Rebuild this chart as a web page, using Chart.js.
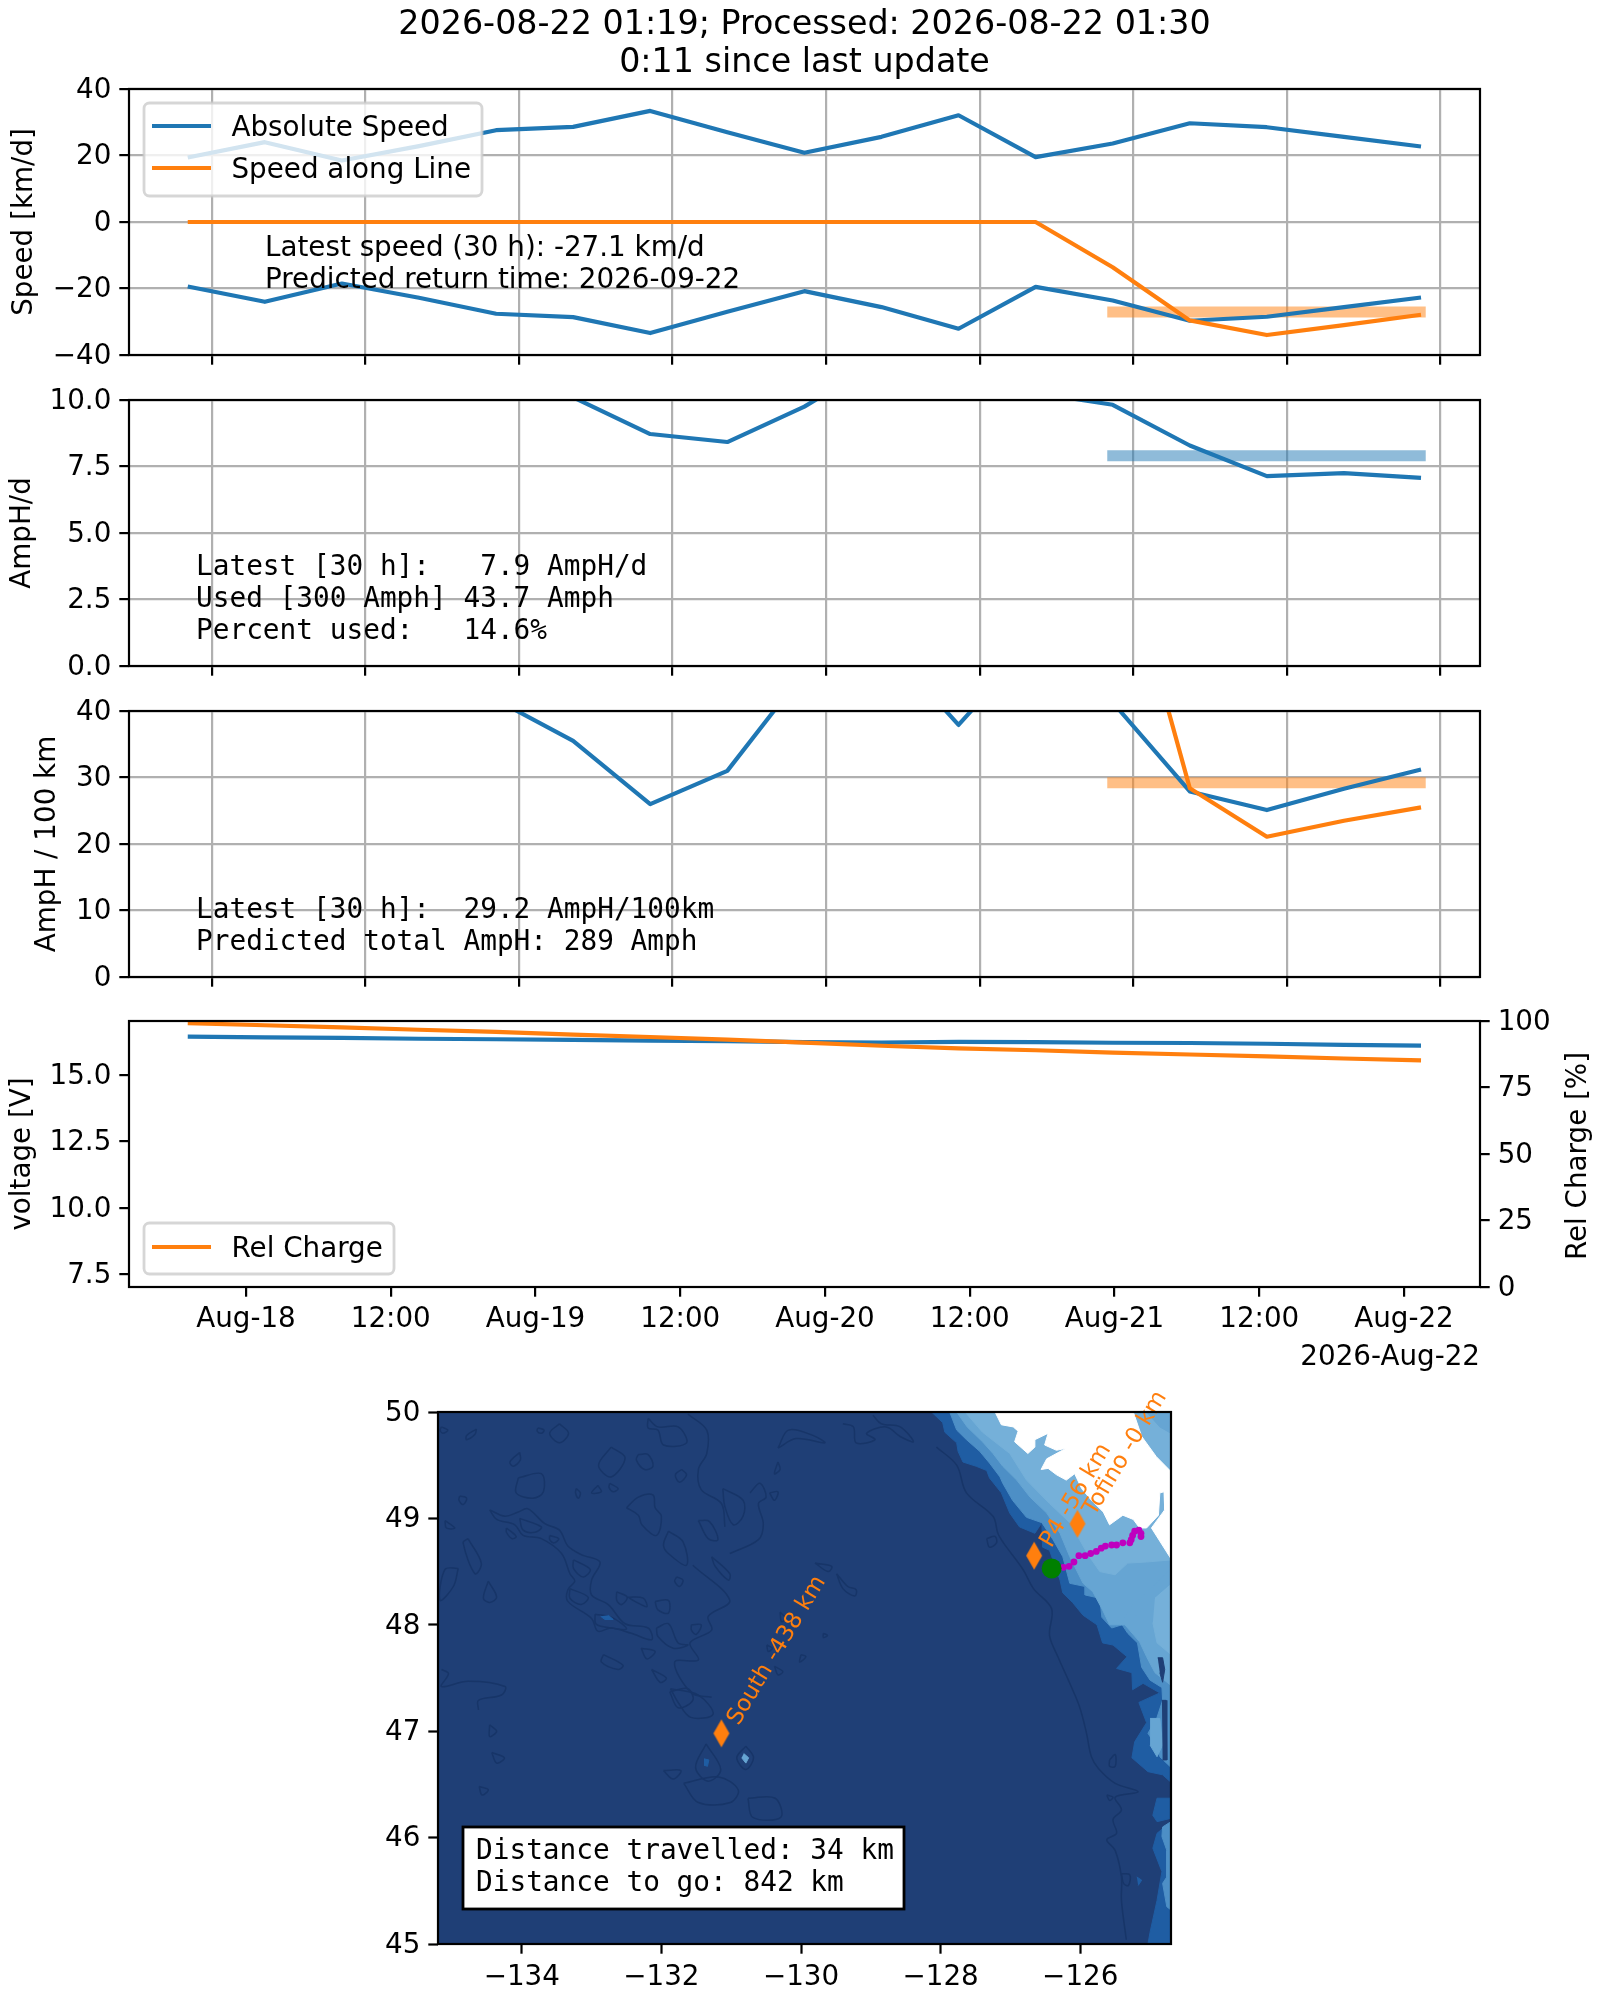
<!DOCTYPE html>
<html>
<head>
<meta charset="utf-8">
<title>Glider status</title>
<script src="https://cdn.jsdelivr.net/npm/chart.js@4/dist/chart.umd.min.js"></script>
<style>
  html, body { margin: 0; background: #fff; }
  #page { position: relative; width: 1600px; height: 2000px; }
  canvas { position: absolute; left: 0; }
</style>
</head>
<body>
<div id="page"></div>
<script>
// --- Time series, hours since Aug-18 00:00 ---
const hours = [-4.83, 1.56, 7.95, 14.34, 20.73, 27.12, 33.51, 39.90, 46.29, 52.68, 59.07, 65.46, 71.85, 78.24, 84.63, 91.02, 97.41];
const absSpeed = [19.4, 24.0, 18.5, 22.8, 27.6, 28.6, 33.4, 27.0, 20.8, 25.6, 32.1, 19.5, 23.6, 29.7, 28.5, 25.6, 22.7];
const absSpeedNeg = [-19.4, -24.0, -18.5, -22.8, -27.6, -28.6, -33.4, -27.0, -20.8, -25.6, -32.1, -19.5, -23.6, -29.7, -28.5, -25.6, -22.7];
const lineSpeed = [0, 0, 0, 0, 0, 0, 0, 0, 0, 0, 0, 0, -13.6, -29.6, -34.0, -31.0, -27.9];
const amphPerDay = [13, 14, 12.5, 12, 11, 10.1, 8.72, 8.42, 9.75, 11.5, 12.5, 10.27, 9.82, 8.29, 7.14, 7.25, 7.07];
const amphPer100km = [60, 55, 62, 50, 41.7, 35.5, 26.0, 31.0, 45.9, 50.8, 37.9, 50.8, 41.3, 27.9, 25.1, 28.3, 31.2];
const amphPer100kmLine = [null, null, null, null, null, null, null, null, null, null, null, null, 70.4, 28.4, 21.1, 23.5, 25.5];
const voltage = [16.46, 16.43, 16.41, 16.38, 16.36, 16.34, 16.31, 16.29, 16.25, 16.24, 16.26, 16.25, 16.23, 16.22, 16.19, 16.15, 16.12];
const relCharge = [99.2, 98.4, 97.6, 96.7, 95.9, 94.9, 94.0, 93.0, 91.9, 90.7, 89.7, 89.0, 88.1, 87.4, 86.7, 85.9, 85.2];

// latest-window bands: [hour start, hour end, value]
const latestSpeed = [71.4, 97.8, -27.1];
const latestAmphDay = [71.4, 97.8, 7.9];
const latestAmphKm = [71.4, 97.8, 29.2];

// --- Axis ticks ---
const topTickHours = [-2.84, 9.85, 22.63, 35.32, 48.05, 60.83, 73.55, 86.3, 99];
const bottomTickHours = [0, 12, 24, 36, 48, 60, 72, 84, 96];
const bottomTickLabels = ['Aug-18', '12:00', 'Aug-19', '12:00', 'Aug-20', '12:00', 'Aug-21', '12:00', 'Aug-22'];
const speedTicks = [-40, -20, 0, 20, 40];
const amphDayTicks = [0, 2.5, 5, 7.5, 10];
const amphKmTicks = [0, 10, 20, 30, 40];
const voltTicks = [7.5, 10, 12.5, 15];
const chargeTicks = [0, 25, 50, 75, 100];
const lonTicks = [-134, -132, -130, -128, -126];
const latTicks = [45, 46, 47, 48, 49, 50];

// --- Map: route ---
const trackLon = [-126.24, -126.16, -126.09, -126.02, -125.93, -125.85, -125.77, -125.70, -125.64, -125.55, -125.48, -125.39, -125.29, -125.27, -125.25, -125.22, -125.16, -125.13, -125.13];
const trackLat = [48.54, 48.55, 48.59, 48.65, 48.65, 48.67, 48.69, 48.72, 48.74, 48.75, 48.75, 48.77, 48.77, 48.80, 48.84, 48.88, 48.89, 48.86, 48.83];
const waypointNames = ['South -438 km', 'P4 -56 km', 'Tofino -0 km'];
const waypointLon = [-131.14, -126.66, -126.04];
const waypointLat = [46.98, 48.65, 48.95];
const gliderLon = [-126.41];
const gliderLat = [48.53];

// --- Map: depth bands, filled from the sea floor upward ---
const oceanFloor = [[-135.2, 45], [-124.7, 45], [-124.7, 50], [-135.2, 50]];
const slope = [[-128.13, 50], [-127.97, 49.90], [-127.94, 49.81], [-127.77, 49.71], [-127.75, 49.63], [-127.68, 49.53], [-127.49, 49.49], [-127.34, 49.45], [-127.30, 49.38], [-127.13, 49.24], [-127.01, 49.05], [-126.87, 48.92], [-126.65, 48.86], [-126.55, 48.96], [-126.54, 48.73], [-126.44, 48.70], [-126.29, 48.42], [-126.25, 48.30], [-126.11, 48.21], [-125.96, 48.09], [-125.76, 48.00], [-125.68, 47.83], [-125.53, 47.81], [-125.33, 47.70], [-125.48, 47.59], [-125.26, 47.55], [-125.25, 47.39], [-125.10, 47.45], [-124.86, 47.36], [-125.16, 47.27], [-125.05, 47.08], [-125.22, 46.90], [-125.26, 46.75], [-125.03, 46.62], [-124.82, 46.59], [-124.70, 46.52], [-124.70, 50]];
const slopePatchMid = [[-124.71, 46.37], [-124.90, 46.37], [-124.96, 46.21], [-124.90, 46.15], [-124.71, 46.18]];
const slopePatchSouth = [[-124.70, 46.15], [-124.90, 46.04], [-124.96, 45.90], [-124.83, 45.68], [-124.90, 45.41], [-125.00, 45.11], [-125.03, 45], [-124.70, 45]];
const shelfBreak = [[-127.87, 50], [-127.77, 49.83], [-127.63, 49.74], [-127.44, 49.63], [-127.30, 49.52], [-127.15, 49.39], [-127.11, 49.33], [-126.97, 49.17], [-126.77, 49.01], [-126.55, 48.96], [-126.39, 48.80], [-126.25, 48.64], [-126.15, 48.39], [-125.93, 48.36], [-125.93, 48.28], [-125.72, 48.25], [-125.69, 48.07], [-125.55, 47.97], [-125.40, 48.00], [-125.32, 47.92], [-125.18, 47.83], [-125.12, 47.60], [-125.00, 47.48], [-124.83, 47.41], [-124.82, 47.29], [-124.90, 47.13], [-125.03, 46.98], [-124.90, 46.85], [-124.86, 46.76], [-124.70, 46.66], [-124.70, 50]];
const shelfBreakSouth = [[-124.70, 46.15], [-124.82, 46.10], [-124.83, 46.01], [-124.76, 45.88], [-124.76, 45.63], [-124.82, 45.57], [-124.76, 45.35], [-124.70, 45.32]];
const outerShelf = [[-127.77, 50], [-127.62, 49.86], [-127.40, 49.72], [-127.25, 49.61], [-127.11, 49.49], [-126.91, 49.36], [-126.72, 49.20], [-126.48, 49.05], [-126.29, 48.86], [-126.15, 48.64], [-125.96, 48.39], [-125.82, 48.31], [-125.68, 48.14], [-125.58, 48.00], [-125.36, 48.00], [-125.15, 47.84], [-125.05, 47.70], [-124.93, 47.55], [-124.70, 47.43], [-124.70, 50]];
const innerShelf = [[-127.65, 50], [-127.40, 49.81], [-127.01, 49.61], [-126.77, 49.36], [-126.44, 49.14], [-126.15, 48.96], [-126.01, 48.80], [-125.89, 48.66], [-125.72, 48.50], [-125.50, 48.47], [-125.32, 48.58], [-125.05, 48.59], [-124.70, 48.61], [-124.70, 50]];
const innerShelfSouth = [[-124.93, 48.26], [-124.70, 48.39], [-124.70, 47.72], [-124.90, 47.83], [-124.96, 48.02]];
const ridge = [[-125.43, 48.00], [-125.25, 48.19], [-125.00, 48.33], [-124.70, 48.53], [-124.70, 48.39], [-124.93, 48.26], [-125.15, 48.12], [-125.36, 48.00]];
const land = [[-127.22, 50], [-127.13, 49.88], [-126.96, 49.86], [-126.89, 49.82], [-126.94, 49.72], [-126.75, 49.61], [-126.65, 49.67], [-126.65, 49.74], [-126.46, 49.80], [-126.51, 49.69], [-126.34, 49.64], [-126.20, 49.66], [-126.48, 49.56], [-126.56, 49.46], [-126.46, 49.47], [-126.34, 49.41], [-126.20, 49.36], [-126.08, 49.42], [-125.98, 49.28], [-125.84, 49.17], [-125.67, 49.06], [-125.58, 48.94], [-125.39, 49.03], [-125.24, 48.99], [-125.15, 48.91], [-125.05, 48.91], [-124.88, 49.03], [-124.86, 49.24], [-124.80, 49.25], [-124.79, 49.08], [-124.98, 48.91], [-124.70, 48.62], [-124.70, 49.44], [-124.91, 49.58], [-125.12, 49.77], [-125.24, 50]];
const northInlet = [[-125.05, 50], [-124.86, 49.86], [-124.70, 49.80], [-124.70, 50]];
const navyIslets = [[-124.89, 47.69], [-124.82, 47.69], [-124.79, 47.58], [-124.82, 47.46], [-124.86, 47.55]];
const navyStrip = [[-124.83, 47.29], [-124.77, 47.29], [-124.76, 46.73], [-124.82, 46.73]];
const lightStrip = [[-125.00, 47.12], [-124.86, 47.12], [-124.82, 46.87], [-124.90, 46.76], [-125.00, 46.87]];
const bumpNorth = [[-132.87, 48.08], [-132.81, 48.05], [-132.69, 48.05], [-132.76, 48.09]];
const bumpSouthA = [[-131.39, 46.74], [-131.32, 46.73], [-131.34, 46.67], [-131.39, 46.68]];
const bumpSouthB = [[-130.82, 46.79], [-130.75, 46.75], [-130.79, 46.70], [-130.85, 46.75]];
const bumpShore = [[-125.19, 45.63], [-125.12, 45.60], [-125.17, 45.55]];

// --- Map: contour outlines of the deep sea floor ---
const contourChain = [[-134.46, 49.08], [-134.24, 49.02], [-134.05, 49.06], [-133.91, 49.09], [-133.67, 48.95], [-133.46, 48.89], [-133.34, 48.74], [-133.15, 48.66], [-132.88, 48.59], [-133.00, 48.42], [-133.00, 48.28], [-132.76, 48.19], [-132.52, 48.01], [-132.19, 47.97], [-132.14, 47.86], [-132.43, 47.92], [-132.72, 47.97], [-132.91, 47.94], [-133.00, 48.06], [-133.34, 48.22], [-133.34, 48.33], [-133.24, 48.41], [-133.31, 48.48], [-133.43, 48.67], [-133.72, 48.81], [-133.98, 48.84], [-134.10, 48.94], [-134.36, 48.99], [-134.46, 49.08]];
const contourCoast = [[-128.06, 49.67], [-127.77, 49.50], [-127.63, 49.24], [-127.25, 49.02], [-127.18, 48.86], [-127.10, 48.77], [-126.82, 48.52], [-126.67, 48.34], [-126.41, 48.15], [-126.44, 47.90], [-126.32, 47.70], [-126.15, 47.45], [-126.01, 47.23], [-125.91, 46.98], [-125.84, 46.76], [-125.74, 46.65], [-125.50, 46.51], [-125.17, 46.43], [-125.50, 46.38], [-125.41, 46.26], [-125.53, 46.17], [-125.48, 46.04], [-125.62, 45.98], [-125.50, 45.88], [-125.41, 45.63], [-125.41, 45.41], [-125.34, 45.04]];
const contourWest = [[-135.15, 47.58], [-135.05, 47.54], [-135.15, 47.42], [-134.77, 47.47], [-134.24, 47.42], [-134.29, 47.34], [-134.62, 47.29], [-134.62, 47.20]];
const contourNorth = [[-131.62, 49.98], [-131.35, 49.83], [-131.35, 49.61], [-131.47, 49.46], [-131.43, 49.27], [-131.14, 49.14], [-131.09, 48.92]];
const contourMid = [[-131.55, 48.56], [-131.02, 48.23], [-131.33, 48.08], [-131.28, 47.95], [-131.59, 47.83], [-131.47, 47.67], [-131.81, 47.65], [-131.57, 47.36], [-131.28, 47.32]];
const contourTopD = [[-130.73, 49.24], [-130.59, 49.33], [-130.50, 49.20], [-130.61, 49.14], [-130.54, 48.95], [-130.61, 48.80], [-131.02, 48.67]];
const contourTopE = [[-129.40, 49.89], [-129.25, 49.86], [-129.21, 49.71], [-128.94, 49.74], [-129.06, 49.80], [-128.78, 49.86], [-128.58, 49.77], [-128.39, 49.72], [-128.58, 49.86], [-128.85, 49.89], [-128.97, 49.97]];
const contourLoops = [
    [[-133.46, 49.89], [-133.33, 49.80], [-133.46, 49.71], [-133.60, 49.80]],
    [[-132.72, 49.67], [-132.52, 49.57], [-132.72, 49.39], [-132.90, 49.50]],
    [[-134.05, 49.38], [-133.72, 49.42], [-133.69, 49.25], [-133.84, 49.19], [-134.08, 49.24]],
    [[-134.03, 49.62], [-134.02, 49.55], [-134.12, 49.49], [-134.17, 49.53]],
    [[-134.65, 49.84], [-134.67, 49.79], [-134.79, 49.74], [-134.79, 49.78]],
    [[-132.19, 49.94], [-132.05, 49.86], [-131.76, 49.86], [-131.64, 49.71], [-131.97, 49.69], [-132.05, 49.83], [-132.19, 49.85]],
    [[-132.33, 49.60], [-132.19, 49.60], [-132.12, 49.49], [-132.24, 49.46], [-132.36, 49.55]],
    [[-132.50, 49.10], [-132.33, 49.20], [-132.12, 49.22], [-132.09, 49.10], [-132.00, 49.02], [-132.07, 48.84], [-132.28, 48.94], [-132.33, 49.03]],
    [[-131.90, 48.88], [-131.69, 48.78], [-131.64, 48.56], [-131.90, 48.67], [-131.97, 48.75]],
    [[-134.77, 48.81], [-134.58, 48.58], [-134.67, 48.48], [-134.84, 48.77]],
    [[-134.48, 48.41], [-134.36, 48.26], [-134.46, 48.21], [-134.55, 48.25]],
    [[-134.91, 48.53], [-134.98, 48.36], [-135.17, 48.23], [-135.10, 48.52]],
    [[-132.83, 47.72], [-132.55, 47.62], [-132.62, 47.58], [-132.86, 47.65]],
    [[-132.07, 47.97], [-131.90, 48.01], [-131.76, 47.83], [-131.62, 47.81], [-131.83, 47.78], [-132.05, 47.89]],
    [[-130.33, 49.66], [-130.18, 49.83], [-129.83, 49.78], [-129.66, 49.71], [-130.07, 49.75]],
    [[-130.33, 49.53], [-130.30, 49.46], [-130.38, 49.42]],
    [[-131.12, 49.28], [-130.83, 49.17], [-130.83, 49.02], [-130.97, 48.94], [-131.09, 49.11]],
    [[-129.80, 48.58], [-129.56, 48.55], [-129.61, 48.50]],
    [[-129.49, 48.48], [-129.33, 48.36], [-129.21, 48.33], [-129.23, 48.27], [-129.40, 48.34]],
    [[-127.34, 48.81], [-127.22, 48.83], [-127.20, 48.77], [-127.30, 48.73]],
    [[-131.36, 46.88], [-131.15, 46.64], [-131.33, 46.53], [-131.51, 46.66]],
    [[-130.79, 46.86], [-130.68, 46.75], [-130.79, 46.64], [-130.92, 46.75]],
    [[-131.87, 47.40], [-131.47, 47.34], [-131.26, 47.16], [-131.58, 47.13], [-131.76, 47.27]],
    [[-130.76, 46.37], [-130.37, 46.37], [-130.29, 46.19], [-130.69, 46.19]],
    [[-135.15, 49.86], [-135.06, 49.83], [-135.13, 49.80], [-135.17, 49.83]],
    [[-133.77, 49.85], [-133.68, 49.83], [-133.72, 49.80], [-133.78, 49.82]],
    [[-132.91, 49.31], [-132.86, 49.25], [-133.00, 49.24]],
    [[-132.74, 49.33], [-132.62, 49.28], [-132.69, 49.25], [-132.75, 49.29]],
    [[-131.71, 49.46], [-131.64, 49.41], [-131.74, 49.34], [-131.80, 49.41]],
    [[-133.22, 49.28], [-133.16, 49.24], [-133.19, 49.19], [-133.23, 49.24]],
    [[-134.89, 49.21], [-134.79, 49.19], [-134.84, 49.13], [-134.90, 49.17]],
    [[-135.10, 48.98], [-134.96, 48.91], [-135.08, 48.91]],
    [[-134.22, 48.91], [-134.08, 48.83], [-134.14, 48.81], [-134.22, 48.87]],
    [[-133.60, 48.84], [-133.47, 48.81], [-133.54, 48.77], [-133.60, 48.80]],
    [[-132.64, 48.31], [-132.49, 48.26], [-132.57, 48.19], [-132.64, 48.23]],
    [[-132.48, 48.26], [-132.26, 48.25], [-132.21, 48.17], [-132.38, 48.22]],
    [[-132.09, 48.22], [-131.90, 48.23], [-131.90, 48.11], [-132.05, 48.14]],
    [[-131.57, 48.00], [-131.43, 48.00], [-131.50, 47.91], [-131.57, 47.95]],
    [[-132.29, 47.78], [-132.09, 47.75], [-132.21, 47.68]],
    [[-132.14, 47.58], [-131.93, 47.50], [-132.02, 47.46]],
    [[-131.88, 47.37], [-131.62, 47.40], [-131.55, 47.29], [-131.76, 47.22]],
    [[-131.28, 48.64], [-131.02, 48.48], [-131.04, 48.42], [-131.23, 48.55]],
    [[-131.47, 48.98], [-131.31, 48.97], [-131.19, 48.80], [-131.33, 48.81]],
    [[-131.78, 48.45], [-131.69, 48.42], [-131.74, 48.36], [-131.81, 48.41]],
    [[-134.46, 47.06], [-134.36, 47.00], [-134.46, 46.95]],
    [[-134.43, 46.80], [-134.25, 46.75], [-134.36, 46.70]],
    [[-134.61, 46.48], [-134.48, 46.45], [-134.57, 46.40]],
    [[-131.97, 46.63], [-131.72, 46.63], [-131.83, 46.55]],
    [[-131.68, 46.51], [-131.18, 46.57], [-130.90, 46.45], [-131.01, 46.33], [-131.47, 46.33]],
    [[-133.26, 48.61], [-133.02, 48.52], [-133.12, 48.45], [-133.26, 48.53]],
    [[-133.31, 48.34], [-133.05, 48.26], [-133.15, 48.19], [-133.31, 48.25]],
    [[-134.03, 49.00], [-133.72, 48.92], [-133.81, 48.87], [-133.98, 48.89]],
    [[-132.95, 48.10], [-132.71, 48.07], [-132.50, 47.96], [-132.81, 47.98], [-132.94, 48.01]],
    [[-125.58, 46.73], [-125.50, 46.78], [-125.50, 46.67], [-125.58, 46.67]],
    [[-125.62, 46.40], [-125.53, 46.38], [-125.58, 46.35]],
    [[-125.41, 45.66], [-125.29, 45.65], [-125.31, 45.55], [-125.38, 45.57]],
    [[-130.45, 49.24], [-130.33, 49.25], [-130.38, 49.17]],
    [[-130.00, 47.72], [-129.93, 47.70], [-130.02, 47.65]],
    [[-129.68, 47.92], [-129.62, 47.90], [-129.68, 47.88]],
    [[-130.30, 48.12], [-130.22, 48.06], [-130.28, 48.03]],
    [[-130.38, 47.61], [-130.26, 47.56], [-130.33, 47.53]],
    [[-130.49, 47.81], [-130.41, 47.78], [-130.47, 47.75]]
];
const contourLines = [contourChain, contourCoast, contourWest, contourNorth, contourMid, contourTopD, contourTopE];

// --- Styles ---
const BLUE = '#1f77b4';
const ORANGE = '#ff7f0e';
const BLUE_BAND = 'rgba(31,119,180,0.5)';
const ORANGE_BAND = 'rgba(255,127,14,0.5)';
const NAVY = '#1f3f76';
const LEVEL1 = '#1f5da3';
const LEVEL2 = '#4d8fc6';
const LEVEL3 = '#66a5d3';
const LEVEL4 = '#75b0d9';
const FONT = 'DejaVu Sans';
const MONO = 'DejaVu Sans Mono';
const FS = 27.78;
const TICK_LEN = 9.7;
const THIN = 2.2;
const LEFT = 129, RIGHT = 1480, PANEL_H = 266, X_GAP = 30;

const page = document.getElementById('page');

function addCanvas(top, height) {
    const c = document.createElement('canvas');
    c.width = 1600;
    c.height = height;
    c.style.top = top + 'px';
    page.appendChild(c);
    return c;
}

function series(ys, color, yAxisID) {
    return {
        data: hours.map((h, i) => ({ x: h, y: ys[i] })),
        borderColor: color,
        borderWidth: 4.17,
        borderJoinStyle: 'round',
        pointRadius: 0,
        yAxisID: yAxisID || 'y'
    };
}

function band(b, color) {
    return {
        data: [{ x: b[0], y: b[2] }, { x: b[1], y: b[2] }],
        borderColor: color,
        borderWidth: 11,
        pointRadius: 0
    };
}

function xAxis(tickValues, labels, height) {
    return {
        type: 'linear',
        min: -9.7,
        max: 102.3,
        afterBuildTicks: s => { s.ticks = tickValues.map(v => ({ value: v })); },
        afterFit: s => { s.height = height; },
        grid: { display: true, drawOnChartArea: !labels, color: '#b0b0b0', lineWidth: THIN, tickColor: '#000', tickWidth: THIN, tickLength: TICK_LEN },
        border: { display: false },
        ticks: {
            display: !!labels,
            autoSkip: false,
            maxRotation: 0,
            padding: 6,
            color: '#000',
            font: { family: FONT, size: FS },
            callback: (v, i) => labels ? labels[i] : ''
        }
    };
}

function yAxis(tickValues, min, max, title, titlePad, format, opts) {
    opts = opts || {};
    return Object.assign({
        type: 'linear',
        min: min,
        max: max,
        position: 'left',
        afterBuildTicks: s => { s.ticks = tickValues.map(v => ({ value: v })); },
        afterFit: s => { s.width = LEFT; },
        grid: { drawOnChartArea: !opts.noGrid, color: '#b0b0b0', lineWidth: THIN, tickColor: '#000', tickWidth: THIN, tickLength: TICK_LEN },
        border: { display: false },
        title: { display: true, text: title, color: '#000', font: { family: FONT, size: FS }, padding: { top: titlePad, bottom: 0 } },
        ticks: { color: '#000', padding: 8, labelOffset: 1.5, font: { family: FONT, size: FS }, callback: format }
    }, opts.extra || {});
}

const intLabel = v => String(v).replace('-', '\u2212');
const oneDecimal = v => v.toFixed(1);

// draws the spines, free text and hand placed legend on top of the datasets
function overlay(canvasTop, spec) {
    return {
        id: 'overlay',
        afterDatasetsDraw(chart) {
            const ctx = chart.ctx;
            const a = chart.chartArea;
            ctx.save();
            (spec.texts || []).forEach(t => {
                ctx.font = FS + 'px "' + (t.mono ? MONO : FONT) + '"';
                ctx.fillStyle = '#000';
                ctx.textAlign = t.align || 'left';
                ctx.textBaseline = 'alphabetic';
                ctx.fillText(t.text, t.x, t.y - canvasTop);
            });
            if (spec.draw) spec.draw(chart, ctx);
            if (spec.legend) {
                const l = spec.legend;
                ctx.beginPath();
                ctx.roundRect(l.x0, l.y0 - canvasTop, l.x1 - l.x0, l.y1 - l.y0, 5.5);
                ctx.fillStyle = 'rgba(255,255,255,0.8)';
                ctx.fill();
                ctx.lineWidth = 2.8;
                ctx.strokeStyle = 'rgba(204,204,204,0.8)';
                ctx.stroke();
                l.items.forEach(it => {
                    ctx.beginPath();
                    ctx.moveTo(152, it.y - canvasTop);
                    ctx.lineTo(211, it.y - canvasTop);
                    ctx.strokeStyle = it.color;
                    ctx.lineWidth = 4.17;
                    ctx.stroke();
                    ctx.font = FS + 'px "' + FONT + '"';
                    ctx.fillStyle = '#000';
                    ctx.textAlign = 'left';
                    ctx.fillText(it.text, 231.5, it.y + 10 - canvasTop);
                });
            }
            ctx.lineWidth = THIN;
            ctx.strokeStyle = '#000';
            ctx.strokeRect(a.left, a.top, a.right - a.left, a.bottom - a.top);
            ctx.restore();
        }
    };
}

const baseOptions = (padding, scales, plugins) => ({
    responsive: false,
    animation: false,
    events: [],
    layout: { padding: padding },
    scales: scales,
    plugins: Object.assign({ legend: { display: false }, tooltip: { enabled: false } }, plugins || {})
});

// --- Panel 1: speed ---
new Chart(addCanvas(0, 89 + PANEL_H + X_GAP), {
    type: 'scatter',
    data: { datasets: [
        Object.assign(band(latestSpeed, ORANGE_BAND), { showLine: true, order: 4 }),
        Object.assign(series(absSpeed, BLUE), { showLine: true, order: 3 }),
        Object.assign(series(absSpeedNeg, BLUE), { showLine: true, order: 2 }),
        Object.assign(series(lineSpeed, ORANGE), { showLine: true, order: 1 })
    ] },
    options: baseOptions({ left: 0, right: 1600 - RIGHT, top: 0, bottom: 0 }, {
        x: xAxis(topTickHours, null, X_GAP),
        y: yAxis(speedTicks, -40, 40, 'Speed [km/d]', 8.5, intLabel)
    }, {
        title: {
            display: true,
            fullSize: false,
            text: ['2026-08-22 01:19; Processed: 2026-08-22 01:30', '0:11 since last update'],
            color: '#000',
            font: { family: FONT, size: 33.33, weight: 'normal', lineHeight: 1.15 },
            padding: { top: 6, bottom: 6.3 }
        }
    }),
    plugins: [overlay(0, {
        texts: [
            { text: 'Latest speed (30 h): -27.1 km/d', x: 265, y: 256 },
            { text: 'Predicted return time: 2026-09-22', x: 265, y: 288 }
        ],
        legend: { x0: 144, y0: 103, x1: 482, y1: 196, items: [
            { text: 'Absolute Speed', color: BLUE, y: 126 },
            { text: 'Speed along Line', color: ORANGE, y: 168 }
        ] }
    })]
});

// --- Panel 2: AmpH per day ---
new Chart(addCanvas(370, 30 + PANEL_H + X_GAP), {
    type: 'scatter',
    data: { datasets: [
        Object.assign(band(latestAmphDay, BLUE_BAND), { showLine: true, order: 2 }),
        Object.assign(series(amphPerDay, BLUE), { showLine: true, order: 1 })
    ] },
    options: baseOptions({ left: 0, right: 1600 - RIGHT, top: 30, bottom: 0 }, {
        x: xAxis(topTickHours, null, X_GAP),
        y: yAxis(amphDayTicks, 0, 10, 'AmpH/d', 6.5, oneDecimal)
    }),
    plugins: [overlay(370, {
        texts: [
            { text: 'Latest [30 h]:   7.9 AmpH/d', x: 196, y: 575, mono: true },
            { text: 'Used [300 Amph] 43.7 Amph', x: 196, y: 607, mono: true },
            { text: 'Percent used:   14.6%', x: 196, y: 639, mono: true }
        ]
    })]
});

// --- Panel 3: AmpH per 100 km ---
new Chart(addCanvas(681, 30 + PANEL_H + X_GAP), {
    type: 'scatter',
    data: { datasets: [
        Object.assign(band(latestAmphKm, ORANGE_BAND), { showLine: true, order: 3 }),
        Object.assign(series(amphPer100km, BLUE), { showLine: true, order: 2 }),
        Object.assign(series(amphPer100kmLine, ORANGE), { showLine: true, order: 1 })
    ] },
    options: baseOptions({ left: 0, right: 1600 - RIGHT, top: 30, bottom: 0 }, {
        x: xAxis(topTickHours, null, X_GAP),
        y: yAxis(amphKmTicks, 0, 40, 'AmpH / 100 km', 31.5, intLabel)
    }),
    plugins: [overlay(681, {
        texts: [
            { text: 'Latest [30 h]:  29.2 AmpH/100km', x: 196, y: 918, mono: true },
            { text: 'Predicted total AmpH: 289 Amph', x: 196, y: 950, mono: true }
        ]
    })]
});

// --- Panel 4: voltage and charge ---
new Chart(addCanvas(991, 30 + PANEL_H + 100), {
    type: 'scatter',
    data: { datasets: [
        Object.assign(series(voltage, BLUE), { showLine: true, order: 2 }),
        Object.assign(series(relCharge, ORANGE, 'y2'), { showLine: true, order: 1 })
    ] },
    options: baseOptions({ left: 0, right: 0, top: 30, bottom: 0 }, {
        x: xAxis(bottomTickHours, bottomTickLabels, 100),
        y: yAxis(voltTicks, 7.01, 17.05, 'voltage [V]', 6, oneDecimal, { noGrid: true }),
        y2: yAxis(chargeTicks, 0, 100, '', 0, intLabel, {
            noGrid: true,
            extra: { position: 'right', title: { display: false }, afterFit: s => { s.width = 1600 - RIGHT; } }
        })
    }),
    plugins: [overlay(991, {
        texts: [{ text: '2026-Aug-22', x: RIGHT, y: 1365, align: 'right' }],
        draw(chart, ctx) {
            // right axis title reads bottom to top, like the left one
            ctx.save();
            ctx.translate(1578.5, 1156 - 991);
            ctx.rotate(-Math.PI / 2);
            ctx.font = FS + 'px "' + FONT + '"';
            ctx.fillStyle = '#000';
            ctx.textAlign = 'center';
            ctx.textBaseline = 'middle';
            ctx.fillText('Rel Charge [%]', 0, 0);
            ctx.restore();
        },
        legend: { x0: 144, y0: 1223, x1: 394, y1: 1274, items: [
            { text: 'Rel Charge', color: ORANGE, y: 1247 }
        ] }
    })]
});

// --- Map ---
function polygon(points, color, order) {
    return {
        data: points.map(p => ({ x: p[0], y: p[1] })),
        showLine: true,
        fill: 'shape',
        backgroundColor: color,
        borderColor: color,
        borderWidth: 1,
        pointRadius: 0,
        order: order
    };
}

function contour(points) {
    return {
        data: points.map(p => ({ x: p[0], y: p[1] })),
        showLine: true,
        borderColor: '#173568',
        borderWidth: 1.5,
        tension: 0.35,
        pointRadius: 0,
        order: 90
    };
}

function diamondImage() {
    const c = document.createElement('canvas');
    c.width = 18;
    c.height = 30;
    const g = c.getContext('2d');
    g.fillStyle = ORANGE;
    g.beginPath();
    g.moveTo(9, 1);
    g.lineTo(17, 15);
    g.lineTo(9, 29);
    g.lineTo(1, 15);
    g.closePath();
    g.fill();
    return c;
}

const mapTop = 1382;
new Chart(addCanvas(mapTop, 30 + 532 + 70), {
    type: 'scatter',
    data: { datasets: [
        polygon(oceanFloor, NAVY, 100),
        contourLines.map(contour),
        contourLoops.map(loop => contour(loop.concat([loop[0]]))),
        polygon(slope, LEVEL1, 80),
        polygon(slopePatchMid, LEVEL1, 80),
        polygon(slopePatchSouth, LEVEL1, 80),
        polygon(bumpNorth, LEVEL1, 80),
        polygon(bumpSouthA, LEVEL1, 80),
        polygon(bumpSouthB, LEVEL3, 80),
        polygon(bumpShore, LEVEL1, 80),
        polygon(shelfBreak, LEVEL2, 70),
        polygon(shelfBreakSouth, LEVEL2, 70),
        polygon(outerShelf, LEVEL3, 60),
        polygon(innerShelf, LEVEL4, 50),
        polygon(innerShelfSouth, LEVEL4, 50),
        polygon(ridge, LEVEL3, 45),
        polygon(land, '#ffffff', 40),
        polygon(northInlet, LEVEL3, 38),
        polygon(navyIslets, NAVY, 36),
        polygon(lightStrip, LEVEL3, 36),
        polygon(navyStrip, NAVY, 35),
        {
            data: trackLon.map((v, i) => ({ x: v, y: trackLat[i] })),
            pointRadius: 3.4,
            pointBackgroundColor: '#bf00bf',
            pointBorderWidth: 0,
            order: 5
        },
        {
            data: waypointLon.map((v, i) => ({ x: v, y: waypointLat[i] })),
            pointStyle: diamondImage(),
            pointRadius: 10,
            order: 4
        },
        {
            data: gliderLon.map((v, i) => ({ x: v, y: gliderLat[i] })),
            pointRadius: 10,
            pointBackgroundColor: '#008000',
            pointBorderWidth: 0,
            order: 3
        }
    ].flat() },
    options: baseOptions({ left: 0, right: 429, top: 30, bottom: 0 }, {
        x: {
            type: 'linear',
            min: -135.2,
            max: -124.7,
            afterBuildTicks: s => { s.ticks = lonTicks.map(v => ({ value: v })); },
            afterFit: s => { s.height = 70; },
            grid: { drawOnChartArea: false, tickColor: '#000', tickWidth: THIN, tickLength: TICK_LEN },
            border: { display: false },
            ticks: { autoSkip: false, maxRotation: 0, padding: 7.5, color: '#000', font: { family: FONT, size: FS }, callback: intLabel }
        },
        y: {
            type: 'linear',
            min: 45,
            max: 50,
            afterBuildTicks: s => { s.ticks = latTicks.map(v => ({ value: v })); },
            afterFit: s => { s.width = 438; },
            grid: { drawOnChartArea: false, tickColor: '#000', tickWidth: THIN, tickLength: TICK_LEN },
            border: { display: false },
            ticks: { padding: 8, labelOffset: 1.5, color: '#000', font: { family: FONT, size: FS }, callback: intLabel }
        }
    }),
    plugins: [overlay(mapTop, {
        draw(chart, ctx) {
            // waypoint names run up and to the right of their diamonds
            waypointNames.forEach((name, i) => {
                const px = chart.scales.x.getPixelForValue(waypointLon[i]) + 17;
                const py = chart.scales.y.getPixelForValue(waypointLat[i]) - 7;
                ctx.save();
                ctx.translate(px, py);
                ctx.rotate(-59 * Math.PI / 180);
                ctx.font = '23px "' + FONT + '"';
                ctx.fillStyle = ORANGE;
                ctx.textAlign = 'left';
                ctx.textBaseline = 'alphabetic';
                ctx.fillText(name, 0, 0);
                ctx.restore();
            });
            // distance box
            ctx.fillStyle = '#fff';
            ctx.strokeStyle = '#000';
            ctx.lineWidth = 2.8;
            ctx.fillRect(463, 1827 - mapTop, 441, 82);
            ctx.strokeRect(463, 1827 - mapTop, 441, 82);
            ctx.font = FS + 'px "' + MONO + '"';
            ctx.fillStyle = '#000';
            ctx.textAlign = 'left';
            ctx.textBaseline = 'alphabetic';
            ctx.fillText('Distance travelled: 34 km', 476, 1858.5 - mapTop);
            ctx.fillText('Distance to go: 842 km', 476, 1890.5 - mapTop);
        }
    })]
});
</script>
</body>
</html>
